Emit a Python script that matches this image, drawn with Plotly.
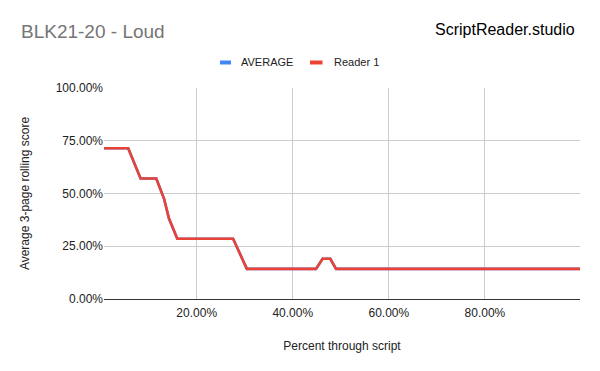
import plotly.graph_objects as go

# ---- data ----
pct_through = [0.7, 5.74, 8.32, 11.58, 13.19, 14.23, 15.96, 27.58, 30.44,
               44.84, 46.21, 47.82, 49.01, 99.8]
reader1 = [71.43, 71.43, 57.14, 57.14, 47.62, 38.10, 28.57, 28.57, 14.29,
           14.29, 19.05, 19.05, 14.29, 14.29]
average = [71.43, 71.43, 57.14, 57.14, 47.62, 38.10, 28.57, 28.57, 14.29,
           14.29, 19.05, 19.05, 14.29, 14.29]

series_names = ["AVERAGE", "Reader 1"]
series_colors = ["#4285F4", "#EA4335"]
y_ticks = [0, 25, 50, 75, 100]
x_ticks = [20, 40, 60, 80]
y_tick_labels = [f"{v:.2f}%" for v in y_ticks]
x_tick_labels = [f"{v:.2f}%" for v in x_ticks]

chart_title = "BLK21-20 - Loud"
brand = "ScriptReader.studio"
x_title = "Percent through script"
y_title = "Average 3-page rolling score"

FONT = "Liberation Sans, Arial, sans-serif"
W, H = 600, 371
L, R, T, B = 104, 20, 88, 72
PW, PH = W - L - R, H - T - B


def px_x(p):
    return (p - L) / PW


def px_y(p):
    return 1 + (T - p) / PH


fig = go.Figure()
for name, ys, col in zip(series_names, [average, reader1], series_colors):
    fig.add_trace(go.Scatter(
        x=pct_through, y=ys, mode="lines", name=name,
        line=dict(color=col, width=2.6), showlegend=False,
        hovertemplate="%{x:.2f}%: %{y:.2f}%<extra>" + name + "</extra>"))

# manual legend (small swatches as in the reference)
legend_items = [(220, 231, 239), (310, 322.5, 331.5)]
shapes = []
annotations = []
for (x0, x1, tx), name, col in zip(legend_items, series_names, series_colors):
    shapes.append(dict(type="rect", xref="paper", yref="paper",
                       x0=px_x(x0), x1=px_x(x1), y0=px_y(64.5), y1=px_y(60.5),
                       fillcolor=col, line=dict(width=0)))
    annotations.append(dict(text=name, xref="paper", yref="paper",
                            x=px_x(tx), y=px_y(62.5), xanchor="left",
                            yanchor="middle", showarrow=False,
                            font=dict(family=FONT, size=11, color="#222222")))

annotations.append(dict(text=brand, xref="paper", yref="paper",
                        x=px_x(577), y=px_y(29.5), xanchor="right",
                        yanchor="middle", showarrow=False,
                        font=dict(family=FONT, size=16, color="#000000")))

fig.update_layout(
    width=W, height=H,
    margin=dict(l=L, r=R, t=T, b=B, pad=0),
    paper_bgcolor="white", plot_bgcolor="white",
    font=dict(family=FONT, size=12, color="#222222"),
    title=dict(text=chart_title, x=21 / W, xanchor="left", xref="container",
               y=1 - 31 / H, yanchor="middle", yref="container",
               font=dict(family=FONT, size=19, color="#757575")),
    shapes=shapes, annotations=annotations,
    showlegend=False,
    xaxis=dict(range=[pct_through[0], pct_through[-1]], tickvals=x_ticks,
               ticktext=x_tick_labels, showgrid=True,
               gridcolor="#cccccc", gridwidth=1, zeroline=False,
               showline=True, linecolor="#333333", linewidth=1,
               ticks="", ticklabelstandoff=3,
               tickfont=dict(size=12, color="#222222"),
               title=dict(text=x_title, standoff=22,
                          font=dict(size=12, color="#222222"))),
    yaxis=dict(range=[0, 100], tickvals=y_ticks, ticktext=y_tick_labels,
               showgrid=True, gridcolor="#cccccc",
               gridwidth=1, zeroline=False, showline=False, ticks="",
               tickfont=dict(size=12, color="#222222"),
               title=dict(text=y_title, standoff=23,
                          font=dict(size=12, color="#222222"))),
)

fig.write_html("out.html", config={"displayModeBar": False},
               post_script="document.body.style.margin='0';")
